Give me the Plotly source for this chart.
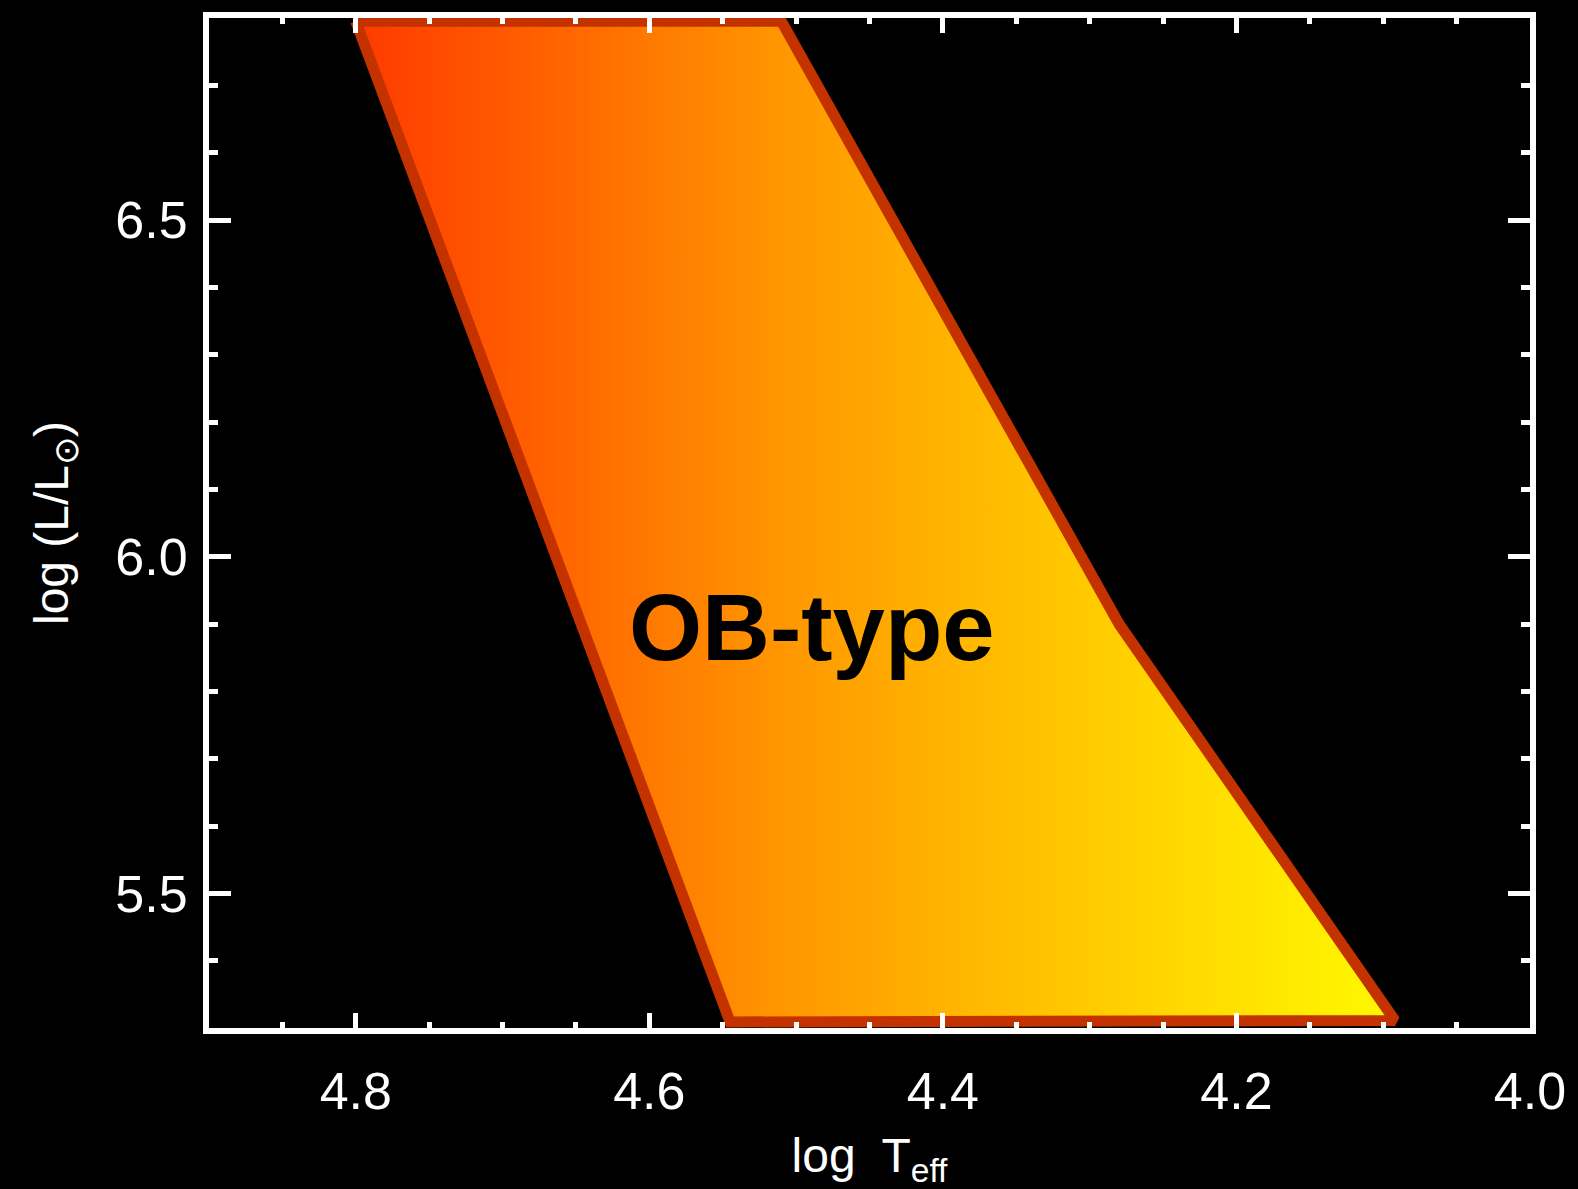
import plotly.graph_objects as go

# OB-type star region in the HR diagram (log Teff vs log L/Lsun)
region_log_teff = [4.80, 4.51, 4.28, 4.092, 4.545, 4.80]
region_log_lum = [6.795, 6.795, 5.90, 5.311, 5.309, 6.795]

region_label = "OB-type"
label_log_teff = 4.489
label_log_lum = 5.895

x_range = [4.9, 4.0]
y_range = [5.3, 6.8]
x_major = [4.8, 4.6, 4.4, 4.2, 4.0]
x_major_text = ["4.8", "4.6", "4.4", "4.2", "4.0"]
y_major = [5.5, 6.0, 6.5]
y_major_text = ["5.5", "6.0", "6.5"]

gradient_stops = [
    [0.0, "#FF3A00"],
    [0.2, "#FF6600"],
    [0.4, "#FF9500"],
    [0.6, "#FFBA00"],
    [0.8, "#FFDA00"],
    [1.0, "#FFFA00"],
]

fig = go.Figure()

fig.add_trace(go.Scatter(
    x=region_log_teff,
    y=region_log_lum,
    mode="lines",
    fill="toself",
    fillgradient=dict(
        type="horizontal",
        colorscale=gradient_stops,
        start=max(region_log_teff),
        stop=min(region_log_teff),
    ),
    line=dict(color="#C43200", width=11),
    hoverinfo="skip",
    showlegend=False,
))

fig.add_annotation(
    x=label_log_teff, y=label_log_lum,
    text=f"<b>{region_label}</b>",
    showarrow=False,
    font=dict(family="Liberation Sans, Arial, sans-serif", size=94, color="black"),
    xanchor="center", yanchor="middle",
)

font_main = "Liberation Sans, Arial, sans-serif"

fig.update_layout(
    width=1578, height=1189,
    margin=dict(l=209, r=42, t=18, b=153),
    paper_bgcolor="black",
    plot_bgcolor="black",
    font=dict(family=font_main, color="white", size=52),
    showlegend=False,
)

fig.update_xaxes(
    range=x_range,
    tickmode="array", tickvals=x_major, ticktext=x_major_text,
    ticks="inside", ticklen=15, tickwidth=5, tickcolor="white",
    minor=dict(dtick=0.05, tick0=4.0, ticks="inside", ticklen=6,
               tickwidth=5, tickcolor="white"),
    showline=True, linewidth=6, linecolor="white", mirror="ticks",
    showgrid=False, zeroline=False,
    tickfont=dict(size=52, color="white"),
    ticklabelstandoff=13,
    title=dict(text="log  T<sub>eff</sub>", font=dict(size=48, color="white"), standoff=23),
)

fig.update_yaxes(
    range=y_range,
    tickmode="array", tickvals=y_major, ticktext=y_major_text,
    ticks="inside", ticklen=22, tickwidth=5, tickcolor="white",
    minor=dict(dtick=0.1, tick0=5.3, ticks="inside", ticklen=9,
               tickwidth=5, tickcolor="white"),
    showline=True, linewidth=6, linecolor="white", mirror="ticks",
    showgrid=False, zeroline=False,
    tickfont=dict(size=52, color="white"),
    ticklabelstandoff=5,
    title=dict(text="log (L/L<sub>⊙</sub>)", font=dict(size=48, color="white"), standoff=34),
)

fig.write_html("out.html")
